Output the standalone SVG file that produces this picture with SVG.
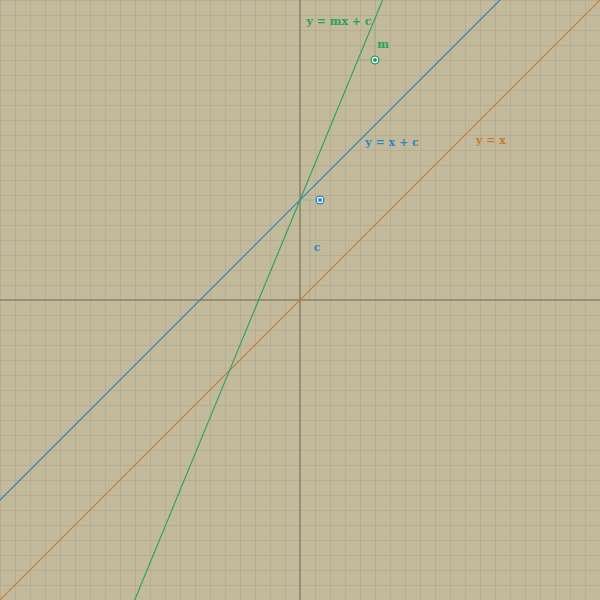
<svg xmlns="http://www.w3.org/2000/svg" width="600" height="600" viewBox="0 0 600 600">
<defs>
<pattern id="grid" width="15" height="15" patternUnits="userSpaceOnUse">
<path d="M0 0H15M0 0V15" fill="none" stroke="#aaa18a" stroke-width="1"/>
</pattern>
</defs>
<style>
.lbl{font-family:"DejaVu Serif","Liberation Serif",serif;font-weight:bold;font-size:11px}
.line{fill:none;stroke-width:1.1}
.help{fill:none;stroke-width:0.7;stroke-opacity:0.6}
</style>
<rect width="600" height="600" fill="#c3b99b"/>
<rect width="600" height="600" fill="url(#grid)"/>
<g id="axes" stroke="#8a826d" stroke-width="1.5">
<line x1="300" y1="0" x2="300" y2="600"/>
<line x1="0" y1="300" x2="600" y2="300"/>
</g>
<g id="connectors">
<line class="help" x1="358" y1="60" x2="375" y2="60" stroke="#6fb08a"/>
<line class="help" x1="375" y1="60" x2="375" y2="19" stroke="#6fb08a"/>
<line class="help" x1="300" y1="200" x2="320" y2="200" stroke="#6fa3b5"/>
<line class="help" x1="310" y1="200" x2="310" y2="300" stroke="#6fa3b5"/>
<line id="line-yx" class="line" x1="0" y1="600" x2="600" y2="0" stroke="#c57a2e"/>
<line id="line-yxc" class="line" x1="0" y1="500" x2="500" y2="0" stroke="#2a80b5"/>
<line id="line-ymxc" class="line" x1="134.7" y1="600" x2="382.6" y2="0" stroke="#27a35a"/>
</g>
<g id="handle-m">
<circle cx="375" cy="60" r="4.5" fill="#27995a"/>
<circle cx="375" cy="60" r="3.2" fill="#ffffff"/>
<circle cx="375" cy="60" r="2" fill="#27995a"/>
</g>
<g id="handle-c">
<circle cx="320" cy="200" r="4.5" fill="#2a88c5"/>
<circle cx="320" cy="200" r="3.2" fill="#ffffff"/>
<circle cx="320" cy="200" r="2" fill="#2a88c5"/>
</g>
<g id="labels" class="lbl">
<text x="339" y="25" text-anchor="middle" fill="#27a35a">y = mx + c</text>
<text x="383" y="48" text-anchor="middle" fill="#27a35a">m</text>
<text x="392" y="146" text-anchor="middle" fill="#2a88c5">y = x + c</text>
<text x="317" y="251" text-anchor="middle" fill="#2a88c5">c</text>
<text x="491" y="144" text-anchor="middle" fill="#c57a2e">y = x</text>
</g>
</svg>
